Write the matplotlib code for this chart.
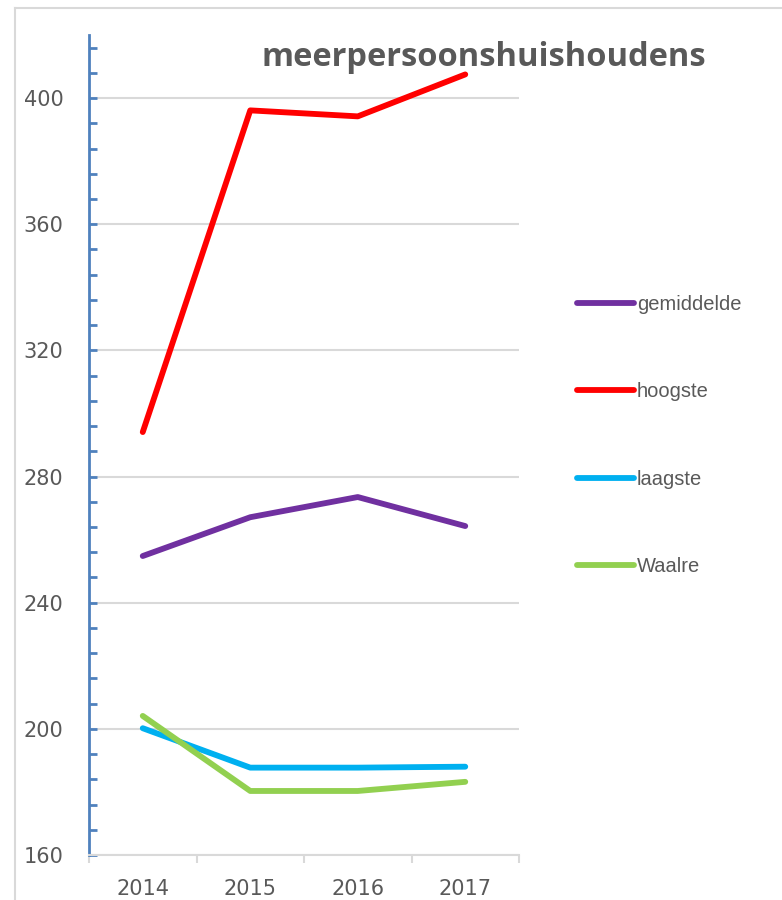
import matplotlib
matplotlib.use("Agg")
import matplotlib.pyplot as plt
from matplotlib.ticker import MultipleLocator
from matplotlib.lines import Line2D

years = ["2014", "2015", "2016", "2017"]
gemiddelde = [254.8, 267.1, 273.5, 264.3]
hoogste = [294.1, 396.1, 394.2, 407.5]
laagste = [200.2, 187.7, 187.7, 188.0]
waalre = [204.1, 180.3, 180.3, 183.2]
series_names = ["gemiddelde", "hoogste", "laagste", "Waalre"]
title = "meerpersoonshuishoudens"

colors = ["#7030A0", "#FF0000", "#00B0F0", "#92D050"]

W, H = 782, 900
fig = plt.figure(figsize=(W / 100, H / 100), dpi=100)

# outer frame of the screenshot
fig.add_artist(Line2D([15 / W, 15 / W], [0, 1 - 8 / H], color="#d9d9d9", lw=1.5))
fig.add_artist(Line2D([15 / W, 1], [1 - 8 / H, 1 - 8 / H], color="#d9d9d9", lw=1.5))

ax = fig.add_axes([89 / W, 1 - 855 / H, (519 - 89) / W, (855 - 35) / H])
x = range(len(years))
for vals, name, c in zip([gemiddelde, hoogste, laagste, waalre], series_names, colors):
    ax.plot(x, vals, color=c, lw=4.2, label=name, solid_capstyle="round", solid_joinstyle="round")

ax.set_xlim(-0.5, len(years) - 0.5)
ax.set_ylim(160, 420)
ax.yaxis.set_minor_locator(MultipleLocator(8))
ax.set_yticks([160, 200, 240, 280, 320, 360, 400])
ax.grid(axis="y", color="#d9d9d9", lw=1.5)
ax.set_axisbelow(True)

for s in ["top", "right"]:
    ax.spines[s].set_visible(False)
ax.spines["left"].set_color("#4F81BD")
ax.spines["left"].set_linewidth(2)
ax.spines["bottom"].set_color("#d9d9d9")
ax.spines["bottom"].set_linewidth(1.5)

ax.tick_params(axis="y", which="both", direction="in", color="#4F81BD", width=2,
               labelcolor="#595959", labelsize=15, pad=18.5)
ax.tick_params(axis="y", which="both", length=6)

# x ticks: category boundaries as tick marks, labels at centers
ax.set_xticks([i + 0.5 for i in range(-1, len(years))], minor=False)
ax.set_xticklabels([])
ax.set_xticks(list(x), minor=True)
ax.set_xticklabels(years, minor=True)
ax.tick_params(axis="x", which="major", direction="out", length=6, color="#d9d9d9", width=1.5)
ax.tick_params(axis="x", which="minor", length=0, labelcolor="#595959", labelsize=15, pad=17)

fig.text(484 / W, 1 - 58 / H, title, ha="center", va="center", fontsize=23.5,
         fontweight="bold", color="#595959", family="Open Sans")

ax.legend(loc="upper left", bbox_to_anchor=(577 / W, 1 - 295 / H), bbox_transform=fig.transFigure,
          frameon=False, labelcolor="#595959", handlelength=2.85,
          handletextpad=0.12, labelspacing=3.4, borderpad=0, borderaxespad=0,
          prop={"family": "Liberation Sans", "size": 14.5})

fig.savefig("out.png", dpi=100)
